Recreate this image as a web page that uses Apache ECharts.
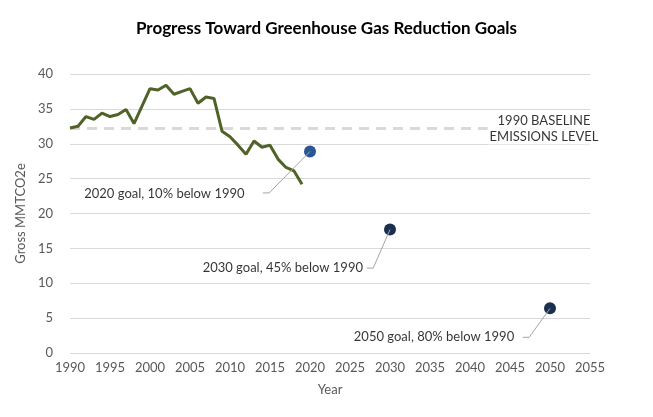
<!DOCTYPE html>
<html>
<head>
<meta charset="utf-8">
<script src="https://cdn.jsdelivr.net/npm/echarts@6/dist/echarts.min.js"></script>
<style>
html,body{margin:0;padding:0;background:#fff;}
#c{width:653px;height:417px;}
</style>
</head>
<body>
<div id="c"></div>
<script>
// ---- data ----
var years = [1990,1991,1992,1993,1994,1995,1996,1997,1998,1999,2000,2001,2002,2003,2004,2005,2006,2007,2008,2009,2010,2011,2012,2013,2014,2015,2016,2017,2018,2019];
var emissions = [32.25,32.5,33.9,33.5,34.4,33.9,34.2,34.9,32.9,35.4,37.9,37.7,38.4,37.1,37.5,37.9,35.8,36.7,36.5,31.8,31.0,29.8,28.5,30.4,29.5,29.8,27.8,26.6,26.1,24.2];
var baselineValue = 32.2;
var baselineYears = [1990, 2055];
var baselineLabel = '1990 BASELINE\nEMISSIONS LEVEL';
var baselineLabelAt = [2049.25, 32.2];
var goalYears = [2020, 2030, 2050];
var goalValues = [28.9, 17.7, 6.4];
var goalColors = ['#2A5597', '#1B2F4F', '#1B2F4F'];
var goalLabels = ['2020 goal, 10% below 1990', '2030 goal, 45% below 1990', '2050 goal, 80% below 1990'];
// label anchor (center) in data units
var goalLabelX = [2001.8, 2016.6, 2035.5];
var goalLabelY = [22.8, 12.2, 2.25];
// leader line elbow points in data units
var leaderEndX = [2014.1, 2027.1, 2046.6];
var leaderElbowX = [2014.9, 2027.9, 2047.4];
var leaderY = [22.95, 12.17, 2.25];
var xTicks = {min:1990, max:2055, interval:5};
var yTicks = {min:0, max:40, interval:5};

var FONT = 'Lato';
var series = [];
series.push({
  type:'line', data: baselineYears.map(function(y){return [y, baselineValue];}),
  symbol:'none', lineStyle:{color:'#D9D9D9', width:3, type:[10,7]}, z:1, silent:true
});
series.push({
  type:'line', data: years.map(function(y,i){return [y, emissions[i]];}),
  symbol:'none', lineStyle:{color:'#4F6228', width:3}, z:3, silent:true
});
series.push({
  type:'scatter', symbolSize:12,
  data: goalYears.map(function(y,i){return {value:[y, goalValues[i]], itemStyle:{color:goalColors[i], opacity:1}};}),
  itemStyle:{opacity:1},
  z:4, silent:true
});
for (var i=0;i<goalYears.length;i++){
  series.push({
    type:'line', symbol:'none', silent:true, z:5,
    lineStyle:{color:'#A6A6A6', width:1},
    data:[[leaderEndX[i], leaderY[i]],[leaderElbowX[i], leaderY[i]],[goalYears[i], goalValues[i]]]
  });
}
series.push({
  type:'scatter', symbolSize:1, itemStyle:{color:'rgba(0,0,0,0)'}, silent:true, z:6,
  data: goalLabels.map(function(t,i){return {value:[goalLabelX[i], goalLabelY[i]], name:t};}),
  label:{show:true, position:'inside', formatter:function(p){return p.name;}, color:'#000', fontFamily:FONT, fontSize:13}
});
series.push({
  type:'scatter', symbolSize:1, itemStyle:{color:'rgba(0,0,0,0)'}, silent:true, z:6,
  data:[{value:baselineLabelAt, name:baselineLabel}],
  label:{show:true, position:'inside', formatter:function(p){return p.name;}, color:'#000', fontFamily:FONT, fontSize:13, lineHeight:16, align:'center', backgroundColor:'#fff', padding:[0,2]}
});

var chart = echarts.init(document.getElementById('c'), null, {renderer:'canvas'});
chart.setOption({
  animation:false,
  backgroundColor:'#fff',
  title:{text:'Progress Toward Greenhouse Gas Reduction Goals', left:'center', top:15,
    textStyle:{fontFamily:FONT, fontWeight:'bold', fontSize:17, color:'#000'}},
  grid:{left:70, right:63, top:74, bottom:64},
  xAxis:{type:'value', min:xTicks.min, max:xTicks.max, interval:xTicks.interval,
    name:'Year', nameLocation:'middle', nameGap:30,
    nameTextStyle:{fontFamily:FONT, fontSize:13, color:'#595959'},
    axisLine:{show:false}, axisTick:{show:false}, splitLine:{show:false},
    axisLabel:{fontFamily:FONT, fontSize:13, color:'#595959', margin:8, formatter:function(v){return String(v);}}},
  yAxis:{type:'value', min:yTicks.min, max:yTicks.max, interval:yTicks.interval,
    name:'Gross MMTCO2e', nameLocation:'middle', nameGap:40,
    nameTextStyle:{fontFamily:FONT, fontSize:13, color:'#595959'},
    axisLine:{show:false}, axisTick:{show:false},
    splitLine:{lineStyle:{color:'#D9D9D9', width:1}},
    axisLabel:{fontFamily:FONT, fontSize:13, color:'#595959', margin:17}},
  series: series
});
</script>
</body>
</html>
